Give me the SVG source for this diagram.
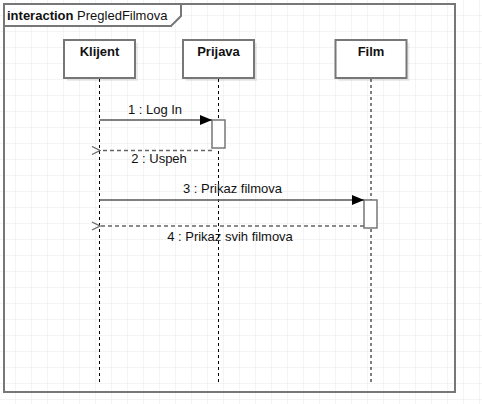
<svg xmlns="http://www.w3.org/2000/svg" width="482" height="404" viewBox="0 0 482 404">
<defs>
<pattern id="grid" width="16" height="16" patternUnits="userSpaceOnUse">
<path d="M16 0V16M0 16H16" fill="none" stroke="#e9e9e9" stroke-width="1"/>
</pattern>
<marker id="filled" markerWidth="12" markerHeight="10" refX="12" refY="5" orient="auto" markerUnits="userSpaceOnUse">
<path d="M0 0L12 5L0 10Z" fill="#000"/>
</marker>
<marker id="open" markerWidth="10" markerHeight="10" refX="1" refY="5" orient="auto" markerUnits="userSpaceOnUse">
<path d="M9 1L1 5L9 9" fill="none" stroke="#666" stroke-width="1.2"/>
</marker>
</defs>
<style>
text{font-family:"Liberation Sans",Arial,sans-serif;font-size:13px;fill:#111}
.b{font-weight:bold}
.box{fill:#fff;stroke:#777;stroke-width:2}
.shadow{fill:#000;opacity:0.08}
.life{stroke:#000;stroke-width:1;stroke-dasharray:3 3;fill:none}
.act{fill:#fff;stroke:#777;stroke-width:1.5}
.msg{stroke:#555;stroke-width:1.5;fill:none}
.ret{stroke:#666;stroke-width:1.5;stroke-dasharray:4 3;fill:none}
.frame{fill:none;stroke:#777;stroke-width:2}
</style>
<rect x="0" y="0" width="482" height="404" fill="#fff"/>
<rect x="0" y="0" width="482" height="404" fill="url(#grid)"/>
<g id="frame">
<rect class="frame" x="4" y="4" width="451" height="388"/>
<path d="M4 4H181V16L171 26H4Z" fill="#fff" stroke="#777" stroke-width="2"/>
<text x="7" y="20"><tspan class="b">interaction</tspan> PregledFilmova</text>
</g>
<g id="lifelines">
<line class="life" x1="99.5" y1="79" x2="99.5" y2="384"/>
<line class="life" x1="218.5" y1="79" x2="218.5" y2="384"/>
<line class="life" x1="371" y1="79" x2="371" y2="384"/>
</g>
<g id="klijent">
<rect class="shadow" x="67" y="43" width="71" height="38"/>
<rect class="box" x="64" y="40" width="71" height="38"/>
<text class="b" x="99.5" y="56" text-anchor="middle">Klijent</text>
</g>
<g id="prijava">
<rect class="shadow" x="186" y="43" width="71" height="38"/>
<rect class="box" x="183" y="40" width="71" height="38"/>
<text class="b" x="218.5" y="56" text-anchor="middle">Prijava</text>
</g>
<g id="film">
<rect class="shadow" x="338.5" y="43" width="71" height="38"/>
<rect class="box" x="335.5" y="40" width="71" height="38"/>
<text class="b" x="371" y="56" text-anchor="middle">Film</text>
</g>
<g id="activations">
<rect class="act" x="212" y="120" width="13" height="28"/>
<rect class="act" x="364" y="200" width="13" height="28"/>
</g>
<g id="connectors">
<line class="msg" x1="99.5" y1="120" x2="212" y2="120" marker-end="url(#filled)"/>
<text x="155" y="114" text-anchor="middle">1 : Log In</text>
<line class="ret" x1="212" y1="150.5" x2="100" y2="150.5" marker-end="url(#open)"/>
<text x="159" y="163" text-anchor="middle">2 : Uspeh</text>
<line class="msg" x1="99.5" y1="200" x2="364" y2="200" marker-end="url(#filled)"/>
<text x="232.5" y="193" text-anchor="middle">3 : Prikaz filmova</text>
<line class="ret" x1="364" y1="226" x2="100" y2="226" marker-end="url(#open)"/>
<text x="230" y="241" text-anchor="middle">4 : Prikaz svih filmova</text>
</g>
</svg>
